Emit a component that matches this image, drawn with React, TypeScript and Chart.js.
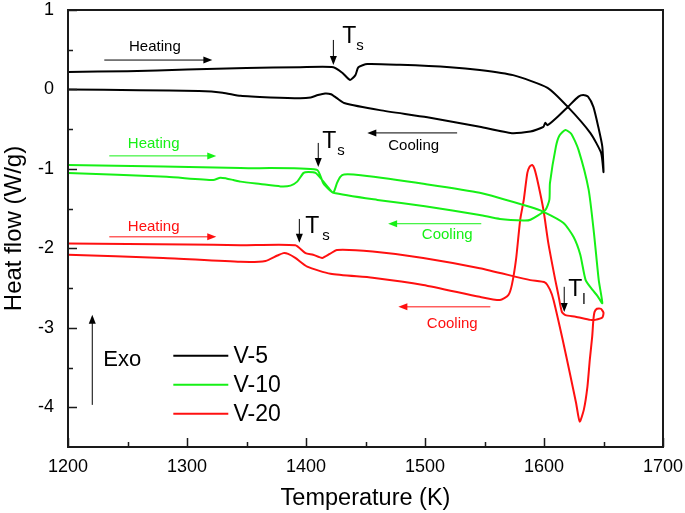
import React, { useEffect, useRef } from 'react';
import { Chart, registerables } from 'chart.js';

Chart.register(...registerables);

// ---------- data ----------
const X_TICKS = [1200, 1300, 1400, 1500, 1600, 1700];
const Y_TICKS = [-4, -3, -2, -1, 0, 1];
const SERIES_LABELS = ['V-5', 'V-10', 'V-20'];

// V-5 : heating (1200 -> 1650) followed by cooling (1650 -> 1200)
const V5_T = [1200, 1250, 1300, 1350, 1395, 1423, 1430.5, 1437, 1441.5, 1444, 1451.5, 1479, 1521, 1546, 1574, 1603, 1620, 1639, 1648, 1650,
  1649, 1645.6, 1641.5, 1637, 1633, 1629, 1620, 1611, 1603, 1601, 1599.5, 1588.6, 1573, 1546, 1502, 1462, 1432, 1426, 1421, 1416, 1410, 1404, 1395, 1370, 1345, 1330, 1310, 1260, 1200];
const V5_H = [0.22, 0.23, 0.25, 0.27, 0.28, 0.28, 0.21, 0.12, 0.18, 0.28, 0.32, 0.31, 0.28, 0.245, 0.18, 0.02, -0.22, -0.55, -0.8, -1.04,
  -0.72, -0.47, -0.22, -0.09, -0.07, -0.09, -0.22, -0.35, -0.45, -0.42, -0.47, -0.53, -0.55, -0.47, -0.35, -0.26, -0.17, -0.11, -0.06, -0.05, -0.07, -0.1, -0.11, -0.1, -0.08, -0.04, -0.02, -0.01, 0.0];

// V-10
const V10_T = [1200, 1280, 1345, 1409, 1414.5, 1420, 1423, 1426, 1428.8, 1432, 1446, 1500, 1546, 1588.6, 1599.6, 1616.4, 1625, 1630.5, 1635, 1640.6, 1645, 1649,
  1646, 1642, 1637.5, 1629, 1623, 1618, 1613, 1610, 1605, 1604.5, 1601, 1588.6, 1583, 1563, 1546, 1500, 1460, 1423, 1419, 1413.6, 1408, 1402, 1398, 1392.6, 1387, 1378.6, 1361.6, 1345, 1339, 1333, 1328, 1322, 1283, 1200];
const V10_H = [-0.95, -0.97, -0.99, -1.01, -1.18, -1.27, -1.3, -1.18, -1.1, -1.07, -1.08, -1.19, -1.3, -1.48, -1.54, -1.68, -1.86, -2.08, -2.4, -2.52, -2.6, -2.69,
  -2.4, -1.81, -1.26, -0.76, -0.56, -0.51, -0.58, -0.72, -1.18, -1.39, -1.52, -1.64, -1.65, -1.63, -1.58, -1.47, -1.39, -1.3, -1.24, -1.14, -1.05, -1.04, -1.05, -1.16, -1.21, -1.22, -1.19, -1.16, -1.14, -1.12, -1.11, -1.14, -1.1, -1.05];

// V-20
const V20_T = [1200, 1300, 1345, 1391, 1399.6, 1406, 1413.6, 1420, 1426, 1456, 1498.5, 1546, 1588.5, 1601, 1605, 1608, 1615.7, 1622, 1627, 1630, 1633.5, 1636.5, 1638.5, 1640.5, 1641.5, 1642.5, 1644.5, 1647.8, 1650,
  1649, 1643, 1639, 1626.5, 1618, 1615, 1612, 1609.5, 1603.6, 1599.6, 1595, 1592, 1590, 1588, 1586, 1583, 1580, 1576.5, 1573, 1570, 1563, 1546, 1498.5, 1456, 1420.6, 1401, 1391, 1385, 1381, 1376, 1366, 1345, 1280, 1200];
const V20_H = [-1.94, -1.95, -1.96, -1.96, -2.06, -2.08, -2.12, -2.07, -2.02, -2.04, -2.12, -2.25, -2.4, -2.43, -2.52, -2.65, -3.15, -3.59, -3.95, -4.18, -4.03, -3.74, -3.4, -3.11, -2.9, -2.8, -2.76, -2.76, -2.81,
  -2.87, -2.9, -2.9, -2.86, -2.84, -2.8, -2.58, -2.4, -1.93, -1.52, -1.18, -1.0, -0.95, -0.97, -1.05, -1.39, -1.64, -2.14, -2.46, -2.59, -2.65, -2.61, -2.46, -2.37, -2.32, -2.23, -2.12, -2.07, -2.06, -2.09, -2.16, -2.17, -2.12, -2.08];

// ---------- styles ----------
const FONT = "Arial, 'Liberation Sans', sans-serif";
const BLACK = '#000000';
const GREEN = '#16f016';
const RED = '#ff1010';
const COLORS = [BLACK, GREEN, RED];

// annotation placements (data coordinates)
const NOTES = [
  { text: 'Heating', color: BLACK, x: 1273, y: 0.535, ax1: 1230.5, ax2: 1321.3, ay: 0.37 },
  { text: 'Heating', color: GREEN, x: 1272, y: -0.686, ax1: 1234.7, ax2: 1324.6, ay: -0.836 },
  { text: 'Heating', color: RED, x: 1272, y: -1.73, ax1: 1234.7, ax2: 1324.6, ay: -1.855 },
  { text: 'Cooling', color: BLACK, x: 1490.5, y: -0.71, ax1: 1527, ax2: 1451.5, ay: -0.547 },
  { text: 'Cooling', color: GREEN, x: 1518.7, y: -1.83, ax1: 1547.3, ax2: 1469, ay: -1.69 },
  { text: 'Cooling', color: RED, x: 1522.9, y: -2.95, ax1: 1554.9, ax2: 1477.6, ay: -2.736 },
];
const TMARKS = [
  { sub: 's', ax: 1423, ay1: 0.623, ay2: 0.308, tx: 1430.5, ty: 0.585, sx: 1442.3, sy: 0.497 },
  { sub: 's', ax: 1410.3, ay1: -0.673, ay2: -0.975, tx: 1413.7, ty: -0.736, sx: 1426.3, sy: -0.824 },
  { sub: 's', ax: 1394.4, ay1: -1.63, ay2: -1.93, tx: 1399.4, ty: -1.805, sx: 1413.7, sy: -1.893 },
  { sub: 'l', ax: 1617, ay1: -2.484, ay2: -2.8, tx: 1620.4, ty: -2.6, sx: 1632.2, sy: -2.7 },
];

function drawArrow(ctx: CanvasRenderingContext2D, x1: number, y1: number, x2: number, y2: number, color: string) {
  const ang = Math.atan2(y2 - y1, x2 - x1);
  const hl = 9, hw = 3.5;
  ctx.save();
  ctx.strokeStyle = color;
  ctx.fillStyle = color;
  ctx.lineWidth = 1;
  ctx.beginPath();
  ctx.moveTo(x1, y1);
  ctx.lineTo(x2 - Math.cos(ang) * hl * 0.8, y2 - Math.sin(ang) * hl * 0.8);
  ctx.stroke();
  ctx.beginPath();
  ctx.moveTo(x2, y2);
  ctx.lineTo(x2 - Math.cos(ang) * hl + Math.sin(ang) * hw, y2 - Math.sin(ang) * hl - Math.cos(ang) * hw);
  ctx.lineTo(x2 - Math.cos(ang) * hl - Math.sin(ang) * hw, y2 - Math.sin(ang) * hl + Math.cos(ang) * hw);
  ctx.closePath();
  ctx.fill();
  ctx.restore();
}

const overlay = {
  id: 'overlay',
  afterDraw(chart: any) {
    const ctx: CanvasRenderingContext2D = chart.ctx;
    const { left, right, top, bottom } = chart.chartArea;
    const xs = chart.scales.x;
    const ys = chart.scales.y;
    const px = (v: number) => xs.getPixelForValue(v);
    const py = (v: number) => ys.getPixelForValue(v);
    ctx.save();
    // frame
    ctx.strokeStyle = '#1a1a1a';
    ctx.lineWidth = 2;
    ctx.strokeRect(left, top, right - left, bottom - top);
    // inward ticks
    ctx.lineWidth = 1.5;
    ctx.beginPath();
    X_TICKS.forEach((v, i) => {
      const x = Math.round(px(v)) + 0.5;
      ctx.moveTo(x, bottom); ctx.lineTo(x, bottom - 9);
      if (i < X_TICKS.length - 1) {
        const m = Math.round(px((v + X_TICKS[i + 1]) / 2)) + 0.5;
        ctx.moveTo(m, bottom); ctx.lineTo(m, bottom - 5);
      }
    });
    Y_TICKS.forEach((v, i) => {
      const y = Math.round(py(v)) + 0.5;
      ctx.moveTo(left, y); ctx.lineTo(left + 9, y);
      if (i < Y_TICKS.length - 1) {
        const m = Math.round(py((v + Y_TICKS[i + 1]) / 2)) + 0.5;
        ctx.moveTo(left, m); ctx.lineTo(left + 5, m);
      }
    });
    ctx.stroke();

    // Heating / Cooling notes
    ctx.font = `15px ${FONT}`;
    ctx.textAlign = 'center';
    ctx.textBaseline = 'middle';
    NOTES.forEach((n) => {
      ctx.fillStyle = n.color;
      ctx.fillText(n.text, px(n.x), py(n.y));
      drawArrow(ctx, px(n.ax1), py(n.ay), px(n.ax2), py(n.ay), n.color);
    });

    // T_s / T_l marks
    TMARKS.forEach((t) => {
      drawArrow(ctx, px(t.ax), py(t.ay1), px(t.ax), py(t.ay2), BLACK);
      ctx.fillStyle = BLACK;
      ctx.textAlign = 'left';
      ctx.textBaseline = 'alphabetic';
      ctx.font = `23px ${FONT}`;
      ctx.fillText('T', px(t.tx), py(t.ty));
      ctx.font = `15px ${FONT}`;
      ctx.fillText(t.sub, px(t.sx), py(t.sy));
    });

    // Exo
    drawArrow(ctx, px(1220.4), py(-3.97), px(1220.4), py(-2.836), BLACK);
    ctx.font = `22px ${FONT}`;
    ctx.textAlign = 'left';
    ctx.textBaseline = 'middle';
    ctx.fillStyle = BLACK;
    ctx.fillText('Exo', px(1229.7), py(-3.4));

    // legend
    const legY = [-3.35, -3.717, -4.08];
    chart.data.datasets.forEach((ds: any, i: number) => {
      const y = py(legY[i]);
      ctx.strokeStyle = ds.borderColor;
      ctx.lineWidth = 2;
      ctx.beginPath();
      ctx.moveTo(px(1288.5), y);
      ctx.lineTo(px(1334.7), y);
      ctx.stroke();
      ctx.fillStyle = BLACK;
      ctx.font = `23px ${FONT}`;
      ctx.textAlign = 'left';
      ctx.textBaseline = 'middle';
      ctx.fillText(ds.label, px(1339), y + 1);
    });
    ctx.restore();
  },
};

function toPoints(t: number[], h: number[]) {
  return t.map((x, i) => ({ x, y: h[i] }));
}

function noPad(s: any) {
  s.paddingTop = 0;
  s.paddingBottom = 0;
  s.paddingLeft = 0;
  s.paddingRight = 0;
}

export default function App() {
  const ref = useRef<HTMLCanvasElement | null>(null);
  useEffect(() => {
    if (!ref.current) return;
    const series = [toPoints(V5_T, V5_H), toPoints(V10_T, V10_H), toPoints(V20_T, V20_H)];
    const chart = new Chart(ref.current, {
      type: 'scatter',
      data: {
        datasets: series.map((pts, i) => ({
          label: SERIES_LABELS[i],
          data: pts,
          showLine: true,
          borderColor: COLORS[i],
          backgroundColor: COLORS[i],
          borderWidth: 2,
          pointRadius: 0,
          tension: 0.2,
          fill: false,
        })),
      },
      options: {
        animation: false,
        responsive: false,
        layout: { padding: { top: 10, right: 22, left: 0, bottom: 0 } },
        plugins: { legend: { display: false }, tooltip: { enabled: false } },
        scales: {
          x: {
            type: 'linear',
            min: 1200,
            max: 1700,
            grid: { display: false, drawTicks: false },
            border: { display: false },
            afterBuildTicks: (s: any) => { s.ticks = X_TICKS.map((v) => ({ value: v })); },
            afterFit: (s: any) => { s.height = 66; noPad(s); },
            ticks: { color: BLACK, font: { family: FONT, size: 18 }, padding: 9, maxRotation: 0, autoSkip: false, callback: (v: any) => String(v) },
            title: { display: true, text: 'Temperature (K)', color: BLACK, font: { family: FONT, size: 23.5 }, padding: { top: 3, bottom: 0 } },
          },
          y: {
            type: 'linear',
            min: -4.5,
            max: 1,
            grid: { display: false, drawTicks: false },
            border: { display: false },
            afterBuildTicks: (s: any) => { s.ticks = Y_TICKS.map((v) => ({ value: v })); },
            afterFit: (s: any) => { s.width = 68; noPad(s); },
            ticks: { color: BLACK, font: { family: FONT, size: 18 }, padding: 14, autoSkip: false, callback: (v: any) => String(v) },
            title: { display: true, text: 'Heat flow (W/g)', color: BLACK, font: { family: FONT, size: 24 }, padding: { top: 0, bottom: 2 } },
          },
        },
      },
      plugins: [overlay],
    } as any);
    return () => chart.destroy();
  }, []);
  return (
    <div style={{ position: 'absolute', left: 0, top: 0, width: 685, height: 513, background: '#fff' }}>
      <canvas ref={ref} width={685} height={513} style={{ display: 'block' }} />
    </div>
  );
}
